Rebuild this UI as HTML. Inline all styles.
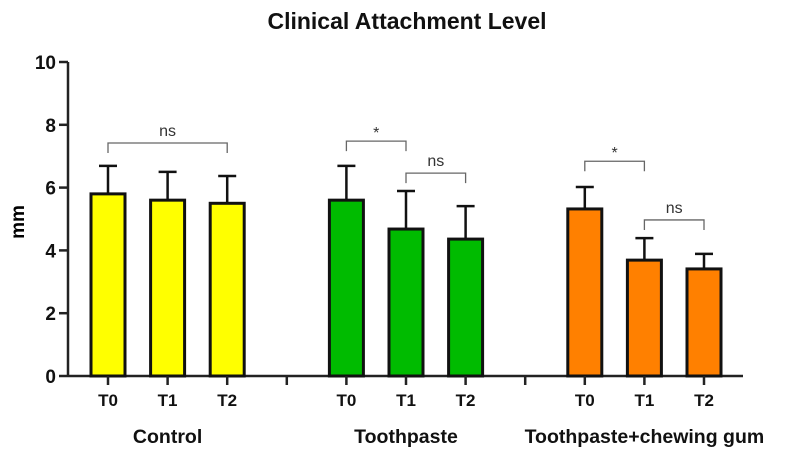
<!DOCTYPE html>
<html><head><meta charset="utf-8"><style>
body{margin:0;background:#fff;}
svg{display:block;font-family:"Liberation Sans",Arial,sans-serif;}
</style></head><body>
<svg id="chart" width="789" height="458"></svg>
<script>
const groups=["Control","Toothpaste","Toothpaste+chewing gum"];
const times=["T0","T1","T2"];
const colors=["#ffff00","#00bb00","#ff8000"];
const means=[[5.8,5.6,5.5],[5.6,4.68,4.36],[5.32,3.69,3.41]];
const errs=[[0.89,0.9,0.87],[1.09,1.21,1.05],[0.7,0.7,0.48]];
const yTicks=[0,2,4,6,8,10];
// brackets: [group, fromIdx, toIdx, label, value level]
const brackets=[[0,0,2,"ns",7.42],[1,0,1,"*",7.48],[1,1,2,"ns",6.46],[2,0,1,"*",6.84],[2,1,2,"ns",4.97]];

const NS="http://www.w3.org/2000/svg";
const svg=document.getElementById("chart");
const x0=68, xEnd=743, y0=376, pxU=31.4;
const y=v=>y0-v*pxU;
const slotX=s=>108+s*59.6;
const bx=(g,i)=>slotX(g*4+i);
function el(t,a,p){const e=document.createElementNS(NS,t);for(const k in a)e.setAttribute(k,a[k]);(p||svg).appendChild(e);return e;}
function txt(s,a){const e=el("text",a);e.textContent=s;return e;}

const title=txt("Clinical Attachment Level",{x:407,y:29,"text-anchor":"middle","font-size":23,"font-weight":"bold",fill:"#111"});



const yt=txt("mm",{x:24,y:222,"text-anchor":"middle","font-size":19,"font-weight":"bold",transform:"rotate(-90 24 222)"});



const yax=el("line",{x1:x0,y1:y(10),x2:x0,y2:y0,stroke:"#222","stroke-width":2.5});


yTicks.forEach(t=>{
  el("line",{x1:x0-9,y1:y(t),x2:x0,y2:y(t),stroke:"#222","stroke-width":2.5});
  const l=txt(String(t),{x:x0-12,y:y(t)+7,"text-anchor":"end","font-size":19,"font-weight":"bold",fill:"#111"});
  
  
});
const xax=el("line",{x1:x0,y1:y0,x2:xEnd,y2:y0,stroke:"#222","stroke-width":2.5});


[3,7].forEach(s=>el("line",{x1:slotX(s),y1:y0,x2:slotX(s),y2:y0+9,stroke:"#222","stroke-width":2.5}));

groups.forEach((g,gi)=>{
  times.forEach((t,i)=>{
    const cx=bx(gi,i), v=means[gi][i], e=errs[gi][i];
    el("line",{x1:cx,y1:y(v),x2:cx,y2:y(v+e),stroke:"#111","stroke-width":2.5});
    el("line",{x1:cx-9,y1:y(v+e),x2:cx+9,y2:y(v+e),stroke:"#111","stroke-width":2.5});
    const b=el("rect",{x:cx-17,y:y(v),width:34,height:y0-y(v),fill:colors[gi],stroke:"#111","stroke-width":3});
    
    
    el("line",{x1:cx,y1:y0,x2:cx,y2:y0+9,stroke:"#222","stroke-width":2.5});
    const l=txt(t,{x:cx,y:y0+30,"text-anchor":"middle","font-size":17,"font-weight":"bold",fill:"#111"});
    
    
  });
  const gl=txt(g,{x:bx(gi,1),y:y0+67,"text-anchor":"middle","font-size":19.5,"font-weight":"bold",fill:"#111"});
  
  
});

brackets.forEach(([g,a,b,lab,lv])=>{
  const x1=bx(g,a), x2=bx(g,b), yy=y(lv);
  const p=el("path",{d:`M${x1} ${yy+10}V${yy}H${x2}V${yy+10}`,fill:"none",stroke:"#666","stroke-width":1.3});
  
  
  const t=txt(lab,{x:(x1+x2)/2,y:yy-(lab==="*"?3:7),"text-anchor":"middle","font-size":lab==="*"?16:16,fill:"#333"});
  
  
});
</script>
</body></html>
